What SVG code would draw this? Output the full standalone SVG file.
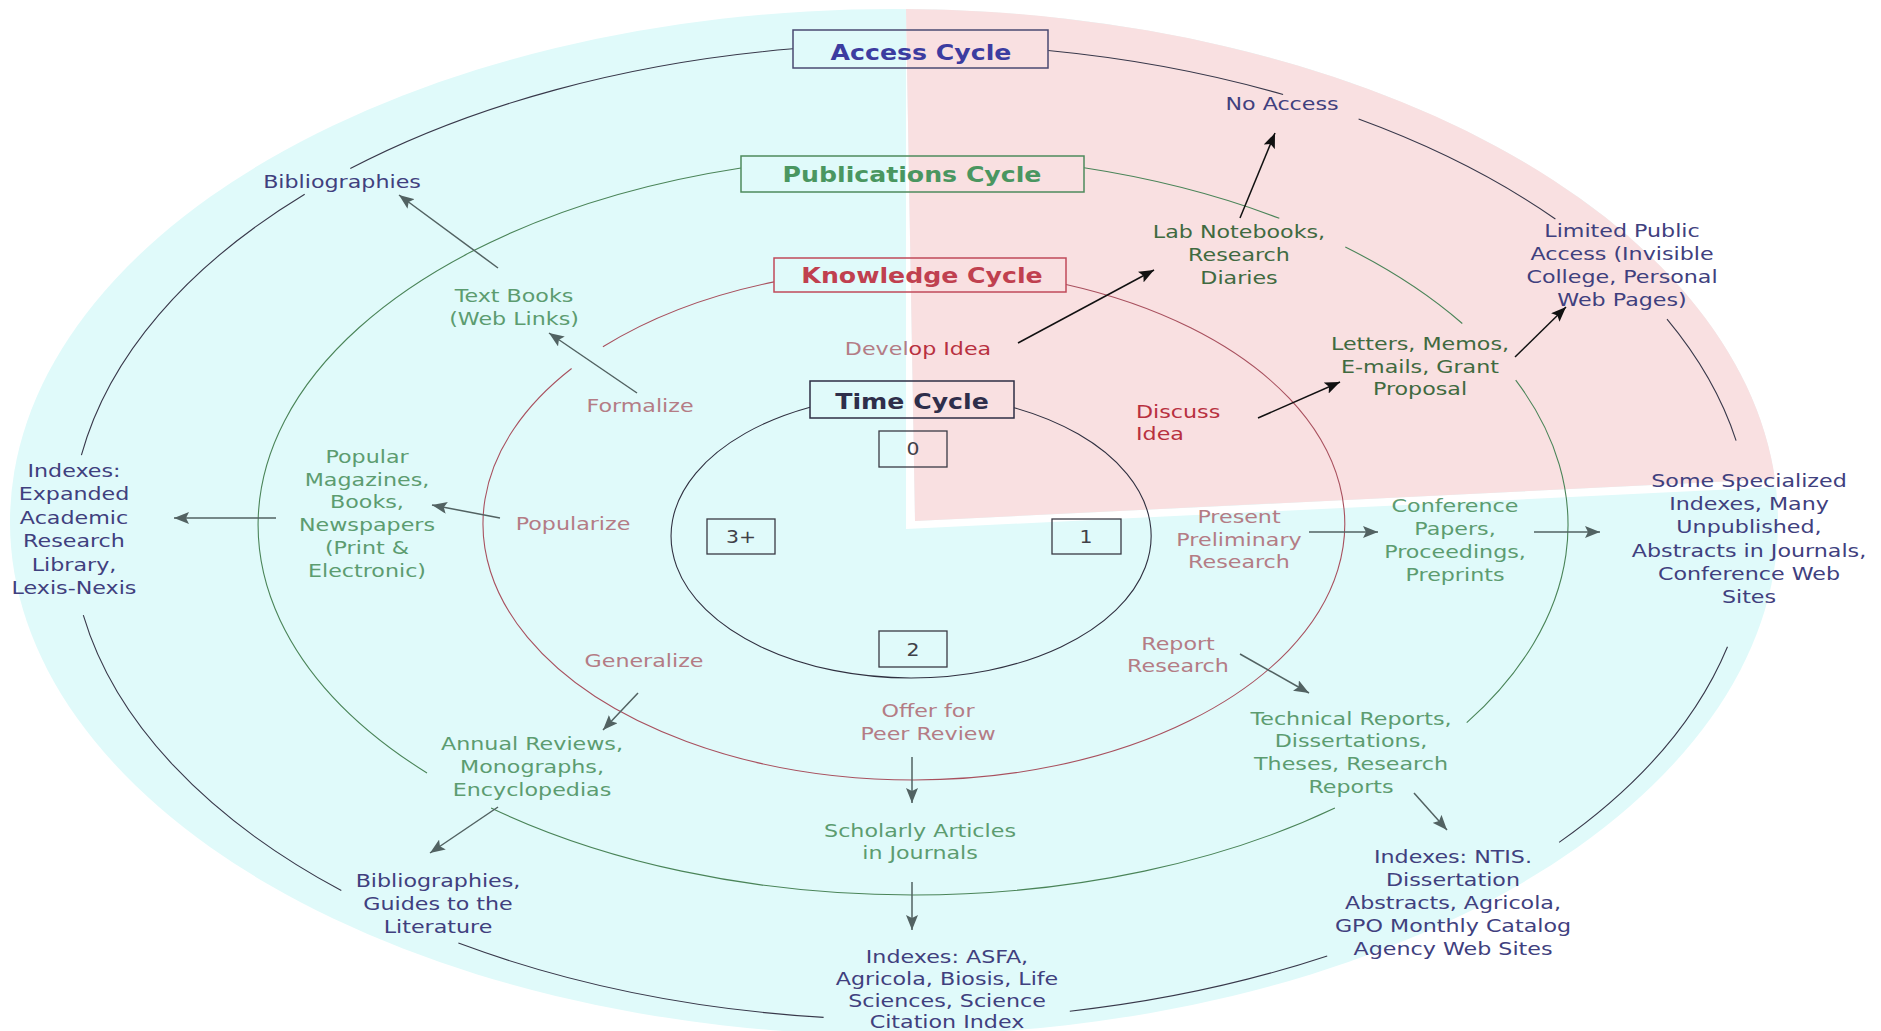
<svg xmlns="http://www.w3.org/2000/svg" width="1881" height="1031" viewBox="0 0 1881 1031">
<style>
text { font-family: "DejaVu Sans", Verdana, sans-serif; }
.lbl { font-size: 18.5px; text-anchor: middle; }
.st { text-anchor: start; }
.ttl { font-size: 21px; font-weight: bold; text-anchor: middle; }
.num { font-size: 17px; text-anchor: middle; fill: #404048; }
.nv { fill: #40407e; }
.gr { fill: #5c9c70; }
.gd { fill: #406a40; }
.kn { fill: #b47c85; }
.kd { fill: #b8303f; }
.ring { fill: none; stroke-width: 1.1; }
.r-acc { stroke: #38384a; }
.r-pub { stroke: #4a8458; }
.r-kno { stroke: #a8505e; }
.r-tim { stroke: #303040; }
.box { fill: none; stroke-width: 1.5; }
.nbox { fill: none; stroke: #3a3a44; stroke-width: 1.3; }
.arr { fill: none; stroke-width: 1.5; }
.ad { stroke: #526262; marker-end: url(#hd); }
.ab { stroke: #111111; marker-end: url(#hb); }
</style>
<defs>
<marker id="hd" markerUnits="userSpaceOnUse" markerWidth="16" markerHeight="12" refX="15" refY="6" orient="auto">
<path d="M0,0 L15,6 L0,12 L3,6 Z" fill="#526262"/>
</marker>
<marker id="hb" markerUnits="userSpaceOnUse" markerWidth="16" markerHeight="12" refX="15" refY="6" orient="auto">
<path d="M0,0 L15,6 L0,12 L3,6 Z" fill="#111111"/>
</marker>
</defs>

<g id="background">
<rect x="0" y="0" width="1881" height="1031" fill="#ffffff"/>
<ellipse cx="894" cy="522" rx="884" ry="513" fill="#e0fafa"/>
<polygon points="906,9 915,521 1778,479 1778,487 906,529" fill="#ffffff"/>
<path d="M906,9 L915,521 L1775,479 A884,513 0 0 0 906,9 Z" fill="#f9e0e1"/>
</g>

<g id="rings">
<path class="ring r-acc" d="M1048.2,50.5 A840,488 0 0 1 1283.1,94.5 M1358.6,119.1 A840,488 0 0 1 1555.4,219 M1667,319.2 A840,488 0 0 1 1736.1,440.6 M1727.5,646.7 A840,488 0 0 1 1559.1,842.4 M1327.2,955.9 A840,488 0 0 1 1069.8,1011.2 M823.6,1017.4 A840,488 0 0 1 458.4,943.1 M341.3,890.6 A840,488 0 0 1 83.3,615.1 M81.4,455.2 A840,488 0 0 1 304.7,194.3 M350.3,168.6 A840,488 0 0 1 793,48.8"/>
<path class="ring r-pub" d="M1084,167.8 A655,370 0 0 1 1279.3,218.3 M1345.3,247 A655,370 0 0 1 1462.3,323.5 M1515.7,380.1 A655,370 0 0 1 1466.7,722.7 M1334.9,808 A655,370 0 0 1 491.1,808 M427,773 A655,370 0 0 1 741,168"/>
<path class="ring r-kno" d="M1066,284.5 A431,256 0 0 1 914,780 A431,256 0 0 1 571.6,368.5 M602.9,346.8 A431,256 0 0 1 774,281.9"/>
<path class="ring r-tim" d="M1014,407.7 A240,142 0 0 1 911,678 A240,142 0 0 1 810,407.2"/>
</g>

<g id="connectors">
<line class="arr ad" x1="498" y1="268" x2="399" y2="195"/>
<line class="arr ad" x1="637" y1="393" x2="549" y2="333"/>
<line class="arr ad" x1="500" y1="518" x2="432" y2="505"/>
<line class="arr ad" x1="276" y1="518" x2="174" y2="518"/>
<line class="arr ad" x1="638" y1="693" x2="603" y2="730"/>
<line class="arr ad" x1="498" y1="807" x2="430" y2="853"/>
<line class="arr ad" x1="912" y1="757" x2="912" y2="803"/>
<line class="arr ad" x1="912" y1="882" x2="912" y2="930"/>
<line class="arr ad" x1="1309" y1="532" x2="1378" y2="532"/>
<line class="arr ad" x1="1534" y1="532" x2="1600" y2="532"/>
<line class="arr ad" x1="1240" y1="654" x2="1309" y2="693"/>
<line class="arr ad" x1="1414" y1="793" x2="1447" y2="830"/>
<line class="arr ab" x1="1240" y1="218" x2="1275" y2="133"/>
<line class="arr ab" x1="1018" y1="343" x2="1154" y2="270"/>
<line class="arr ab" x1="1258" y1="418" x2="1340" y2="382"/>
<line class="arr ab" x1="1515" y1="357" x2="1566" y2="307"/>
</g>

<g id="title-access">
<rect class="box" x="793" y="30" width="255" height="38" stroke="#4a4a72"/>
<text class="ttl" transform="translate(921,60) scale(1.2,1)" fill="#3c3ca0">Access Cycle</text>
</g>
<g id="title-publications">
<rect class="box" x="741" y="156" width="343" height="36" stroke="#4e8a5c"/>
<text class="ttl" transform="translate(912,182) scale(1.2,1)" fill="#4a9660">Publications Cycle</text>
</g>
<g id="title-knowledge">
<rect class="box" x="774" y="258" width="292" height="34" stroke="#c04a5a"/>
<text class="ttl" transform="translate(922,283) scale(1.2,1)" fill="#c0404f">Knowledge Cycle</text>
</g>
<g id="title-time">
<rect class="box" x="810" y="381" width="204" height="37" stroke="#2e2e44"/>
<text class="ttl" transform="translate(912,409) scale(1.2,1)" fill="#2e2e4a">Time Cycle</text>
</g>

<g id="time-0"><rect class="nbox" x="879" y="431" width="68" height="36"/><text class="num" transform="translate(913,455) scale(1.2,1)">0</text></g>
<g id="time-1"><rect class="nbox" x="1052" y="519" width="69" height="35"/><text class="num" transform="translate(1086,543) scale(1.2,1)">1</text></g>
<g id="time-2"><rect class="nbox" x="879" y="631" width="68" height="36"/><text class="num" transform="translate(913,656) scale(1.2,1)">2</text></g>
<g id="time-3plus"><rect class="nbox" x="707" y="519" width="68" height="35"/><text class="num" transform="translate(741,543) scale(1.2,1)">3+</text></g>

<g id="no-access" transform="translate(1282,110) scale(1.2,1)"><text class="lbl nv">No Access</text></g>
<g id="limited-public" transform="translate(1622,237) scale(1.2,1)"><text class="lbl nv"><tspan x="0" y="0">Limited Public</tspan><tspan x="0" y="23">Access (Invisible</tspan><tspan x="0" y="46">College, Personal</tspan><tspan x="0" y="69">Web Pages)</tspan></text></g>
<g id="some-specialized" transform="translate(1749,487) scale(1.2,1)"><text class="lbl nv"><tspan x="0" y="0">Some Specialized</tspan><tspan x="0" y="23">Indexes, Many</tspan><tspan x="0" y="46">Unpublished,</tspan><tspan x="0" y="70">Abstracts in Journals,</tspan><tspan x="0" y="93">Conference Web</tspan><tspan x="0" y="116">Sites</tspan></text></g>
<g id="indexes-ntis" transform="translate(1453,863) scale(1.2,1)"><text class="lbl nv"><tspan x="0" y="0">Indexes: NTIS.</tspan><tspan x="0" y="23">Dissertation</tspan><tspan x="0" y="46">Abstracts, Agricola,</tspan><tspan x="0" y="69">GPO Monthly Catalog</tspan><tspan x="0" y="92">Agency Web Sites</tspan></text></g>
<g id="indexes-asfa" transform="translate(947,963) scale(1.2,1)"><text class="lbl nv"><tspan x="0" y="0">Indexes: ASFA,</tspan><tspan x="0" y="22">Agricola, Biosis, Life</tspan><tspan x="0" y="44">Sciences, Science</tspan><tspan x="0" y="65">Citation Index</tspan></text></g>
<g id="bibliographies-guides" transform="translate(438,887) scale(1.2,1)"><text class="lbl nv"><tspan x="0" y="0">Bibliographies,</tspan><tspan x="0" y="23">Guides to the</tspan><tspan x="0" y="46">Literature</tspan></text></g>
<g id="indexes-expanded" transform="translate(74,477) scale(1.2,1)"><text class="lbl nv"><tspan x="0" y="0">Indexes:</tspan><tspan x="0" y="23.5">Expanded</tspan><tspan x="0" y="47">Academic</tspan><tspan x="0" y="70.5">Research</tspan><tspan x="0" y="94">Library,</tspan><tspan x="0" y="117.5">Lexis-Nexis</tspan></text></g>
<g id="bibliographies" transform="translate(342,188) scale(1.2,1)"><text class="lbl nv">Bibliographies</text></g>

<g id="text-books" transform="translate(514,302) scale(1.2,1)"><text class="lbl gr"><tspan x="0" y="0">Text Books</tspan><tspan x="0" y="23">(Web Links)</tspan></text></g>
<g id="popular-magazines" transform="translate(367,463) scale(1.2,1)"><text class="lbl gr"><tspan x="0" y="0">Popular</tspan><tspan x="0" y="23">Magazines,</tspan><tspan x="0" y="45.5">Books,</tspan><tspan x="0" y="68.5">Newspapers</tspan><tspan x="0" y="91">(Print &amp;</tspan><tspan x="0" y="114">Electronic)</tspan></text></g>
<g id="annual-reviews" transform="translate(532,750) scale(1.2,1)"><text class="lbl gr"><tspan x="0" y="0">Annual Reviews,</tspan><tspan x="0" y="23">Monographs,</tspan><tspan x="0" y="46">Encyclopedias</tspan></text></g>
<g id="scholarly-articles" transform="translate(920,837) scale(1.2,1)"><text class="lbl gr"><tspan x="0" y="0">Scholarly Articles</tspan><tspan x="0" y="22">in Journals</tspan></text></g>
<g id="technical-reports" transform="translate(1351,725) scale(1.2,1)"><text class="lbl gr"><tspan x="0" y="0">Technical Reports,</tspan><tspan x="0" y="22.5">Dissertations,</tspan><tspan x="0" y="45">Theses, Research</tspan><tspan x="0" y="68">Reports</tspan></text></g>
<g id="conference-papers" transform="translate(1455,512) scale(1.2,1)"><text class="lbl gr"><tspan x="0" y="0">Conference</tspan><tspan x="0" y="23">Papers,</tspan><tspan x="0" y="46">Proceedings,</tspan><tspan x="0" y="69">Preprints</tspan></text></g>
<g id="lab-notebooks" transform="translate(1239,238) scale(1.2,1)"><text class="lbl gd"><tspan x="0" y="0">Lab Notebooks,</tspan><tspan x="0" y="23">Research</tspan><tspan x="0" y="46">Diaries</tspan></text></g>
<g id="letters-memos" transform="translate(1420,350) scale(1.2,1)"><text class="lbl gd"><tspan x="0" y="0">Letters, Memos,</tspan><tspan x="0" y="23">E-mails, Grant</tspan><tspan x="0" y="45.5">Proposal</tspan></text></g>

<g id="formalize" transform="translate(640,412) scale(1.2,1)"><text class="lbl kn">Formalize</text></g>
<g id="develop-idea" transform="translate(918,355) scale(1.2,1)"><text class="lbl kn">Devel<tspan class="kd">op Idea</tspan></text></g>
<g id="popularize" transform="translate(573,530) scale(1.2,1)"><text class="lbl kn">Popularize</text></g>
<g id="generalize" transform="translate(644,667) scale(1.2,1)"><text class="lbl kn">Generalize</text></g>
<g id="offer-peer-review" transform="translate(928,717) scale(1.2,1)"><text class="lbl kn"><tspan x="0" y="0">Offer for</tspan><tspan x="0" y="23">Peer Review</tspan></text></g>
<g id="report-research" transform="translate(1178,650) scale(1.2,1)"><text class="lbl kn"><tspan x="0" y="0">Report</tspan><tspan x="0" y="22">Research</tspan></text></g>
<g id="present-preliminary" transform="translate(1239,523) scale(1.2,1)"><text class="lbl kn"><tspan x="0" y="0">Present</tspan><tspan x="0" y="23">Preliminary</tspan><tspan x="0" y="45.5">Research</tspan></text></g>
<g id="discuss-idea" transform="translate(1136,418) scale(1.2,1)"><text class="lbl st kd"><tspan x="0" y="0">Discuss</tspan><tspan x="0" y="22">Idea</tspan></text></g>
</svg>
